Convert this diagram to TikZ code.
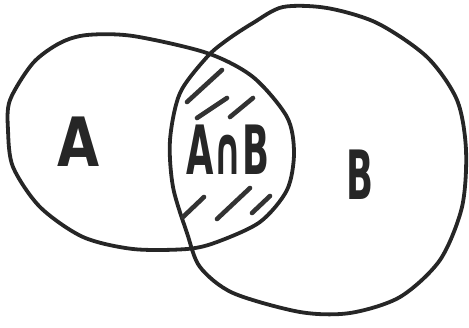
\documentclass[tikz,border=0pt]{standalone}
\usepackage{fontspec}
\setmainfont{DejaVu Sans}
\usepackage{tikz}

\begin{document}
\begin{tikzpicture}[x=1pt,y=-1pt,
    pen/.style={line width=3.8pt,draw=black!85,line cap=round,line join=round},
    hatchline/.style={line width=4.6pt,draw=black!80,line cap=round},
    setlabel/.style={inner sep=0pt,text=black!85,font=\fontsize{68}{68}\selectfont\bfseries}]
  \useasboundingbox (0,0) rectangle (469,327);
  % set A
  \draw[pen] plot[smooth cycle] coordinates {(10,100) (33,63) (60,43) (87,35) (133,36) (207,53) (253,77) (287,117) (294,153) (287,190) (260,222) (217,242) (187,249) (133,249) (83,237) (40,207) (13,167) (8,130)};
  % set B
  \draw[pen] plot[smooth cycle] coordinates {(283,7) (327,8) (377,23) (427,57) (457,100) (466,150) (462,207) (440,260) (400,297) (350,313) (300,312) (233,293) (200,267) (187,233) (173,187) (170,140) (180,93) (207,57) (227,40) (253,23)};
  % hatching of the intersection
  \draw[hatchline] (187,102) -- (222,70);
  \draw[hatchline] (197,118) -- (227,98);
  \draw[hatchline] (230,117) -- (253,98);
  \draw[hatchline] (183,217) -- (204,197);
  \draw[hatchline] (217,219) -- (250,188);
  \draw[hatchline] (252,213) -- (270,196);
  % labels
  \node[setlabel] (setA) at (79,142) {\scalebox{0.8}[1]{A}};
  \node[setlabel] (setAB) at (228,150) {\scalebox{0.52}[1]{A∩B}};
  \node[setlabel] (setB) at (360,175) {\scalebox{0.52}[1]{B}};
\end{tikzpicture}
\end{document}
